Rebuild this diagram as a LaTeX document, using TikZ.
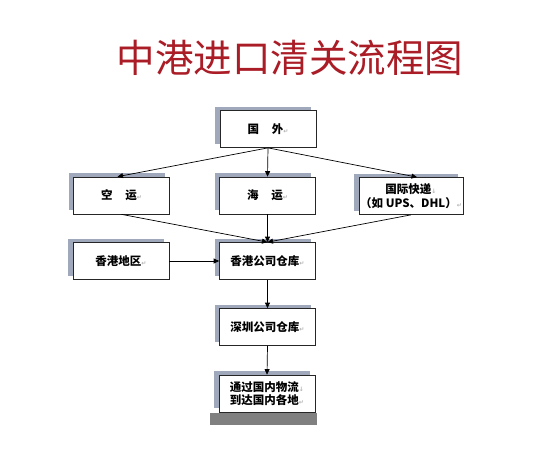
\documentclass[tikz,border=0pt]{standalone}
\usepackage{fontspec}
\setmainfont{Noto Sans CJK SC}
\newfontfamily\dejavu{DejaVu Sans}
\usetikzlibrary{arrows.meta,shadows}

% Word paragraph / line-break marks
\newcommand{\retmark}{{\dejavu\color{gray!60}\fontsize{6}{6}\selectfont ↵}}
\newcommand{\brkmark}{{\dejavu\color{gray!60}\fontsize{6}{6}\selectfont ↓}}

\begin{document}
\begin{tikzpicture}[x=1pt,y=-1pt]
    % Define colors
        \definecolor{titlered}{RGB}{170, 28, 38}   % title
        \definecolor{shadowblue}{RGB}{128, 140, 165} % box shadow
        \definecolor{bargray}{RGB}{128, 128, 128}  % bottom bar

        \tikzset{
            box/.style={draw=black!85, fill=white, line width=0.7pt,
                minimum width=96pt, minimum height=37pt, inner sep=1pt,
                align=center, font=\bfseries\fontsize{11.5}{14}\selectfont,
                drop shadow={shadow xshift=-5pt, shadow yshift=4pt,
                    fill=shadowblue, opacity=0.75}},
            flow/.style={-{Triangle[length=5.5pt,width=5pt]}, line width=0.7pt}
        }

        \useasboundingbox (0,0) rectangle (544,459);

        % Title
        \node[text=titlered, font=\fontsize{38.5}{40}\selectfont] (title) at (290,58) {中港进口清关流程图};

        % Boxes
        \node[box] (abroad) at (268,129) {国\hspace{1.1em}外\retmark};
        \node[box] (air) at (121.5,195.5) {空\hspace{1.1em}运\retmark};
        \node[box] (sea) at (267.5,195.5) {海\hspace{1.1em}运\retmark};
        \node[box] (express) at (411,196) {国际快递\brkmark\\（如 UPS、DHL）\retmark};
        \node[box] (hkarea) at (121,261) {香港地区\retmark};
        \node[box] (hkstore) at (267.5,261) {香港公司仓库\retmark};
        \node[box] (szstore) at (267.5,327) {深圳公司仓库\retmark};
        \node[box, font=\bfseries\fontsize{11.5}{13}\selectfont] (inland) at (267,393.5) {通过国内物流\brkmark\\到达国内各地\retmark};

        % Bottom bar
        \fill[bargray] (210,413) rectangle (317,425);

        % Arrows
        \draw[flow] (abroad.south) -- ([xshift=-4pt]air.north);
        \draw[flow] (abroad.south) -- (sea.north);
        \draw[flow] (abroad.south) -- ([xshift=6pt]express.north);
        \draw[flow] (air.south) -- (hkstore.north);
        \draw[flow] (sea.south) -- (hkstore.north);
        \draw[flow] (express.south) -- (hkstore.north);
        \draw[flow] (hkarea.east) -- (hkstore.west);
        \draw[flow] (hkstore.south) -- (szstore.north);
        \draw[flow] (szstore.south) -- (inland.north);
    \end{tikzpicture}
\end{document}
